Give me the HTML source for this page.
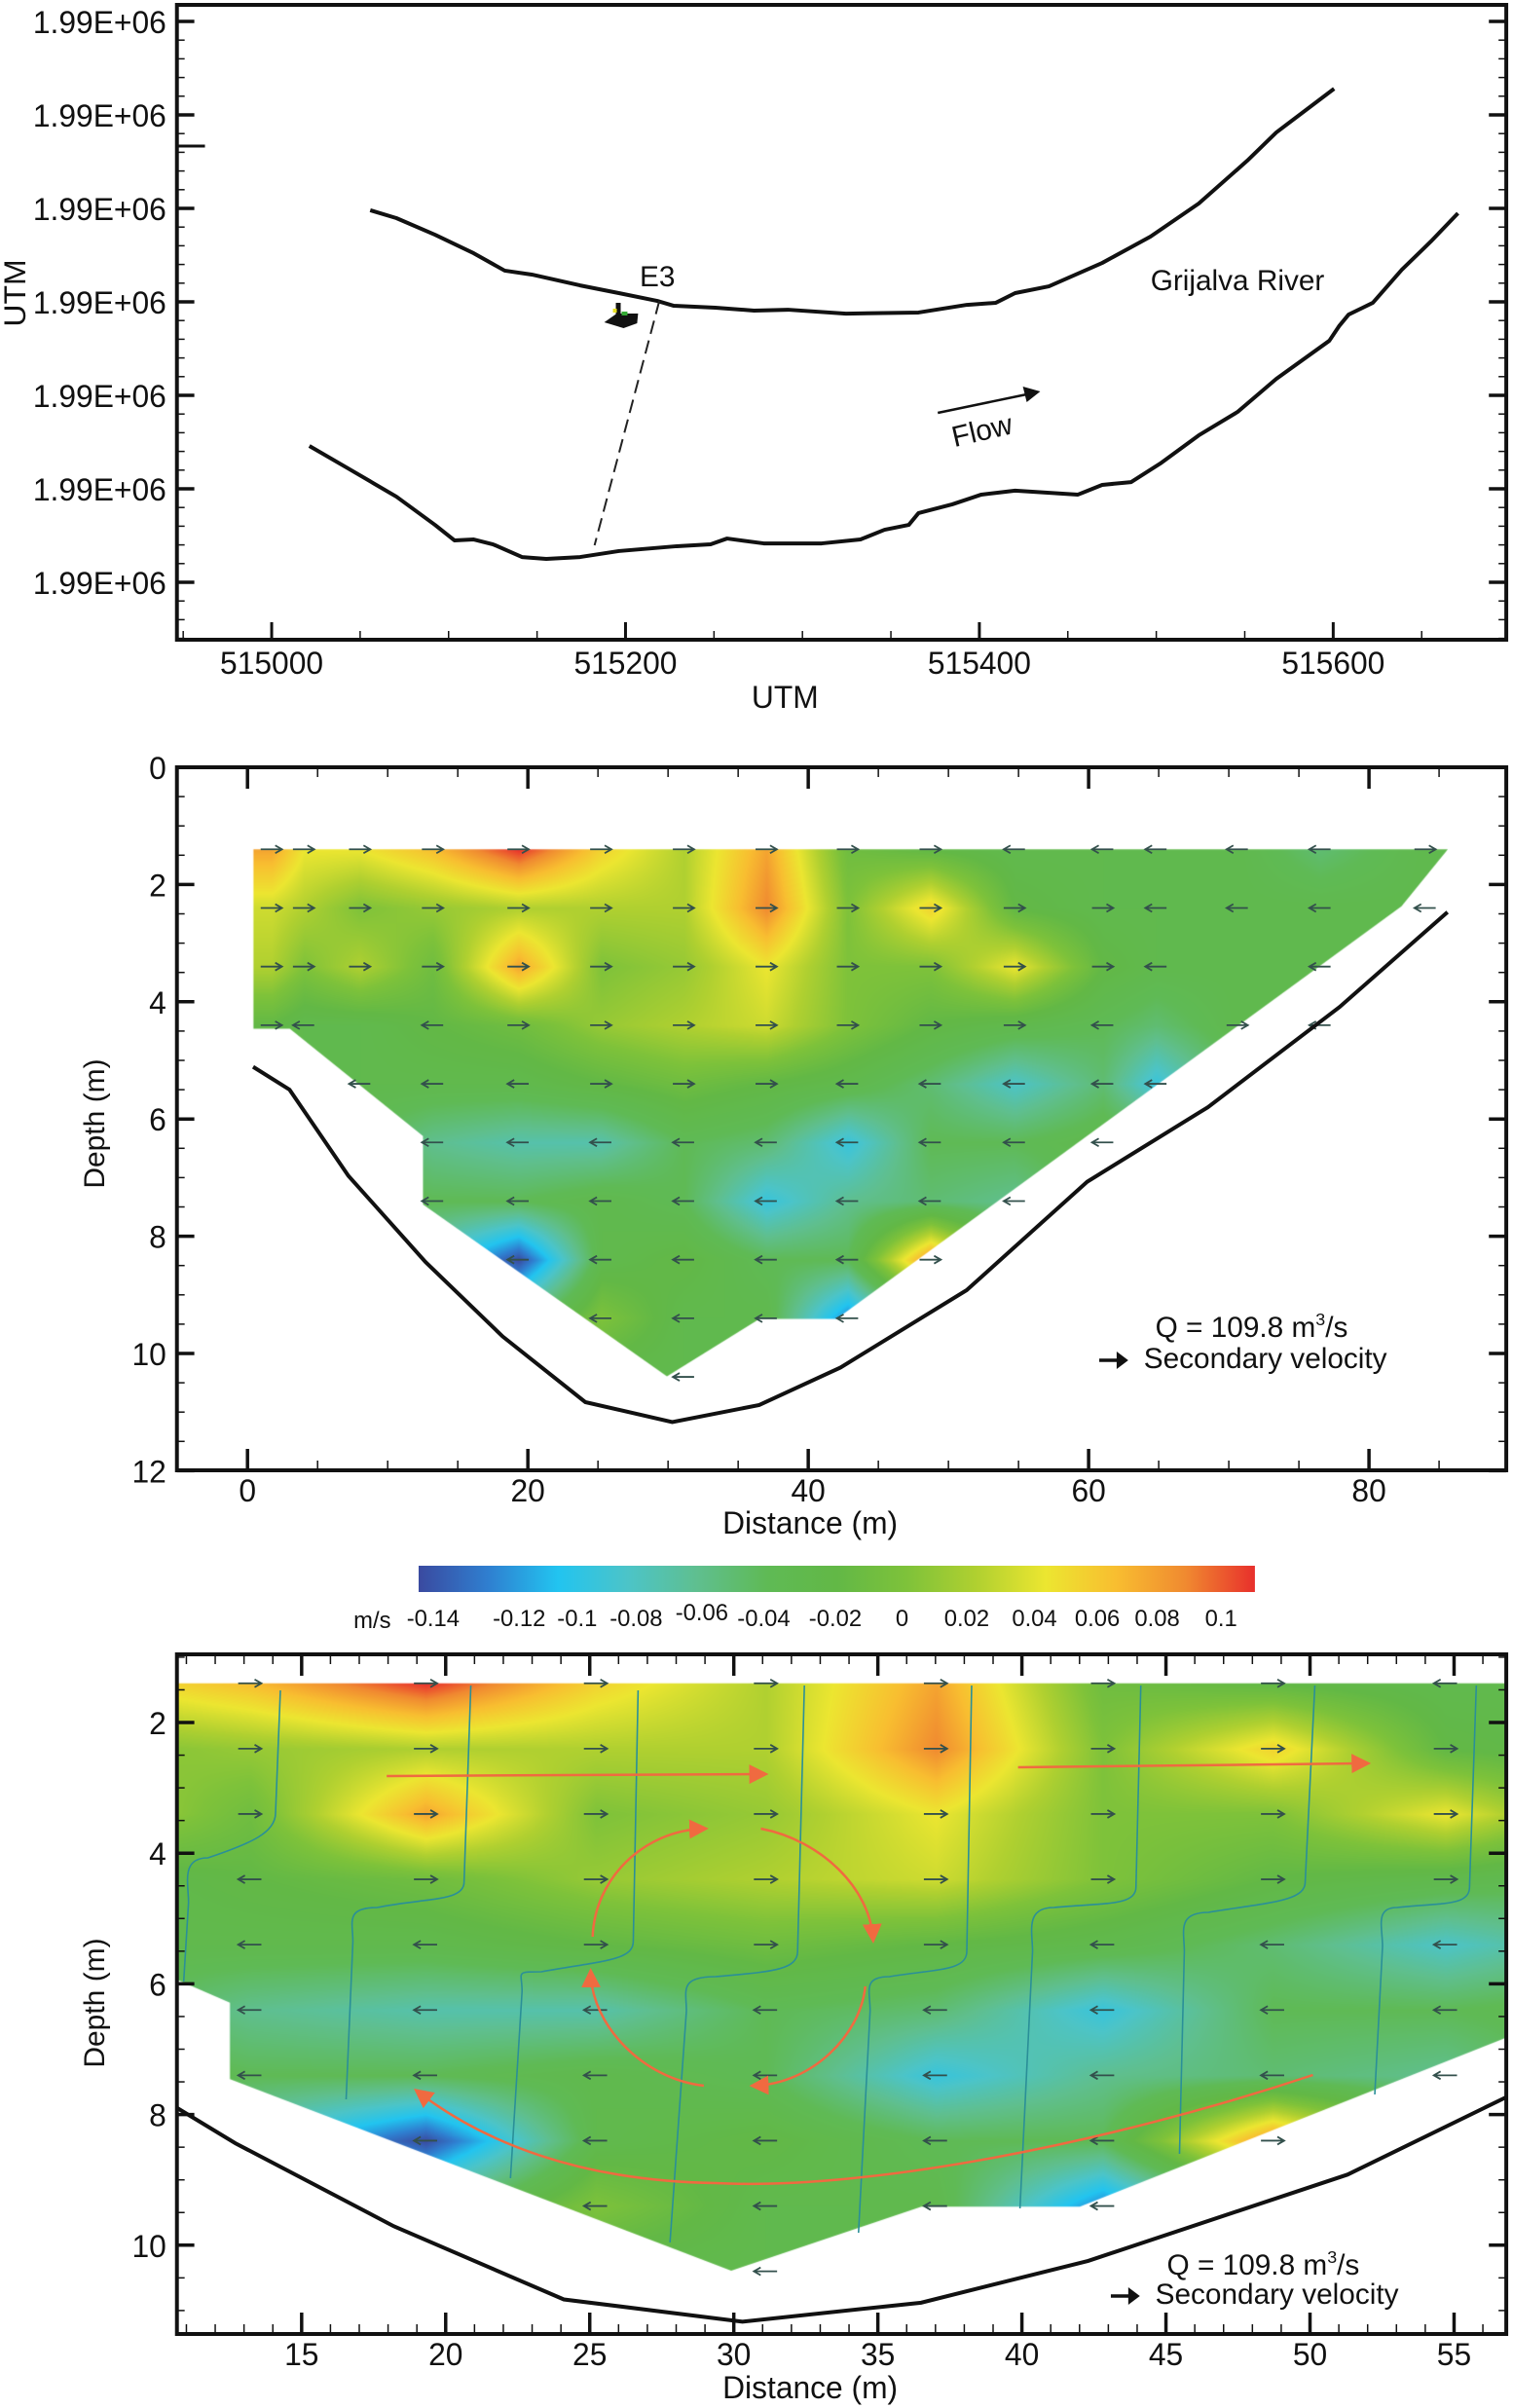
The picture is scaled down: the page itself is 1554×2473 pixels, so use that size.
<!DOCTYPE html>
<html><head><meta charset="utf-8">
<style>
html,body{margin:0;padding:0;background:#fff;}
body{width:1554px;height:2473px;position:relative;overflow:hidden;font-family:"Liberation Sans",sans-serif;}
canvas{position:absolute;transform:scaleX(0.993);transform-origin:0 0;}
svg{position:absolute;left:0;top:0;}
text{font-family:"Liberation Sans",sans-serif;fill:#111;}
</style></head>
<body>
<canvas id="c2"></canvas>
<canvas id="c3"></canvas>
<svg id="s" width="1554" height="2473"><g id="root" transform="scale(0.993 1)"></g></svg>
<script>
// ---------- Panel 1 data (easting offset from 515000 m, northing offset m) ----------
const upperE=[55.7,70.5,92.3,114.2,131.7,147,174.3,196.2,218,227.3,250.8,272.7,291.8,324.6,365.6,392.9,409.3,420.2,439.3,469.4,496.7,524,551.4,567.8,600.5];
const upperN=[199,194.8,185.9,176,166.7,164.6,158.8,154.7,150.5,147.9,146.9,145.3,145.8,143.7,144.3,148.4,149.5,154.7,158.3,170.8,184.9,202.6,225.5,240.6,264];
const lowerE=[21.3,43.2,70.5,92.3,103.3,114.2,125.1,141.5,155.2,174.3,196.2,229,248.1,257.4,278.1,310.9,332.8,346.4,360.1,365.6,384.7,401.1,420.2,455.7,469.4,485.8,502.2,524,545.9,567.8,597.8,603.3,608.7,622.4,638.8,655.2,670.5];
const lowerN=[72.9,60.9,45.8,30.7,22.4,22.9,20.3,13.5,12.5,13.5,16.7,19.3,20.3,23.4,20.8,20.8,22.9,28.1,30.7,37,41.7,46.9,49,46.9,52.1,53.6,63.5,78.6,91.1,108.8,129.2,137,143.2,149.5,167.2,182.3,197.4];
const sectionE=[219.1,182.5];
const sectionN=[150.5,19.8];
const xTickVals1=[0,200,400,600];
const xTickLabels1=["515000","515200","515400","515600"];
const yTickVals1=[0,50,100,150,200,250,300];
const yTickLabels1=["1.99E+06","1.99E+06","1.99E+06","1.99E+06","1.99E+06","1.99E+06","1.99E+06"];

// ---------- Cross-section data ----------
const cols=[1.7,4,8,13.2,19.3,25.2,31.1,37,42.8,48.7,54.7,61,64.8,70.6,76.5,84];
const rows=[1.4,2.4,3.4,4.4,5.4,6.4,7.4,8.4,9.4,10.4];
const vRow1=[0.07,0.04,0.04,0.06,0.10,0.05,0.02,0.07,-0.01,-0.02,-0.03,-0.03,-0.03,-0.03,-0.05,-0.03];
const vRow2=[0.03,0.02,0.0,0.01,0.02,0.02,0.02,0.08,0.0,0.05,-0.02,-0.03,-0.03,-0.03,-0.03,-0.03];
const vRow3=[0.02,0.0,0.02,-0.01,0.07,0.0,0.01,0.04,0.0,0.0,0.04,-0.02,-0.03,-0.03,-0.03,-0.03];
const vRow4=[-0.02,-0.03,-0.03,-0.02,-0.01,0.01,0.02,0.03,0.0,-0.02,-0.03,-0.04,-0.05,-0.03,-0.03,-0.03];
const vRow5=[-0.03,-0.03,-0.03,-0.03,-0.03,-0.02,-0.01,-0.02,-0.03,-0.05,-0.08,-0.05,-0.09,-0.04,-0.03,-0.03];
const vRow6=[-0.03,-0.03,-0.04,-0.06,-0.07,-0.07,-0.04,-0.05,-0.09,-0.04,-0.04,-0.03,-0.03,-0.03,-0.03,-0.03];
const vRow7=[-0.03,-0.03,-0.03,-0.04,-0.04,-0.03,-0.04,-0.09,-0.06,-0.05,-0.06,-0.03,-0.03,-0.03,-0.03,-0.03];
const vRow8=[-0.03,-0.03,-0.03,-0.08,-0.14,-0.03,-0.02,-0.04,-0.04,0.08,-0.03,-0.03,-0.03,-0.03,-0.03,-0.03];
const vRow9=[-0.03,-0.03,-0.03,-0.03,-0.05,0.0,-0.03,-0.03,-0.12,-0.03,-0.03,-0.03,-0.03,-0.03,-0.03,-0.03];
const vRow10=[-0.03,-0.03,-0.03,-0.03,-0.03,-0.03,-0.03,-0.03,-0.03,-0.03,-0.03,-0.03,-0.03,-0.03,-0.03,-0.03];
const vel=[vRow1,vRow2,vRow3,vRow4,vRow5,vRow6,vRow7,vRow8,vRow9,vRow10];
const arrowDirs=["RRRRRRRRRRLLLLLR","RRRRRRRRRRRRLLLL","RRRRRRRRRRRRL.L.","RL.LRRRRRRRL.RL.","..LLLRRRLLLLL...","...LLLLLLLLL....","...LLLLLLLL.....","....LLLLLR......",".....LLLL.......","......L........."];
const polyX=[0.4,85.6,82.3,42,36.5,29.9,12.5,12.5,3,0.4];
const polyD=[1.4,1.4,2.37,9.41,9.41,10.39,7.46,6.29,4.46,4.46];
const bedX=[0.4,3,7.2,12.7,18.2,24.1,30.3,36.5,42.3,51.3,59.9,68.5,77.9,85.6];
const bedD=[5.11,5.5,6.97,8.44,9.71,10.83,11.17,10.88,10.24,8.92,7.07,5.8,4.09,2.47];
const cbTicks=[-0.14,-0.12,-0.1,-0.08,-0.06,-0.04,-0.02,0,0.02,0.04,0.06,0.08,0.1];
const cbLabels=["-0.14","-0.12","-0.1","-0.08","-0.06","-0.04","-0.02","0","0.02","0.04","0.06","0.08","0.1"];

const NS="http://www.w3.org/2000/svg";
const S=document.getElementById('root');
function el(tag,attrs,parent){const e=document.createElementNS(NS,tag);for(const k in attrs)e.setAttribute(k,attrs[k]);(parent||S).appendChild(e);return e;}
function txt(x,y,s,size,anchor,parent){const t=el('text',{x:x,y:y,'font-size':size,'text-anchor':anchor||'middle'},parent);t.textContent=s;return t;}

const cmV=[-0.14,-0.12,-0.10,-0.08,-0.06,-0.04,-0.02,0,0.02,0.04,0.06,0.08,0.10];
const cmC=[[58,74,160],[47,127,208],[34,196,240],[76,196,200],[95,191,143],[95,186,85],[98,184,70],[126,194,58],[176,208,48],[236,230,48],[248,190,48],[240,138,48],[232,48,44]];
function cmap(v){if(v<=cmV[0])return cmC[0];if(v>=cmV[12])return cmC[12];let i=0;while(v>cmV[i+1])i++;const t=(v-cmV[i])/(cmV[i+1]-cmV[i]);return [0,1,2].map(k=>cmC[i][k]+(cmC[i+1][k]-cmC[i][k])*t);}
function seg(arr,x){if(x<=arr[0])return [0,0];const n=arr.length;if(x>=arr[n-1])return [n-2,1];let i=0;while(x>arr[i+1])i++;return [i,(x-arr[i])/(arr[i+1]-arr[i])];}
function val(m,d){const [i,tx]=seg(cols,m);const [j,ty]=seg(rows,d);const a=vel[j][i],b=vel[j][i+1],c=vel[j+1][i],e=vel[j+1][i+1];return (a*(1-tx)+b*tx)*(1-ty)+(c*(1-tx)+e*tx)*ty;}

function drawField(id,box,X,Y,Xi,Yi){
  const cv=document.getElementById(id);cv.width=box.w;cv.height=box.h;cv.style.left=(box.x*0.993)+'px';cv.style.top=box.y+'px';
  const off=document.createElement('canvas');off.width=box.w;off.height=box.h;const oc=off.getContext('2d');
  const img=oc.createImageData(box.w,box.h);
  for(let py=0;py<box.h;py++){const d=Yi(py+box.y);for(let px=0;px<box.w;px++){const m=Xi(px+box.x);const c=cmap(val(m,d));const o=(py*box.w+px)*4;img.data[o]=c[0];img.data[o+1]=c[1];img.data[o+2]=c[2];img.data[o+3]=255;}}
  oc.putImageData(img,0,0);
  const ctx=cv.getContext('2d');ctx.beginPath();
  polyX.forEach((m,i)=>{const x=X(m)-box.x,y=Y(polyD[i])-box.y;i?ctx.lineTo(x,y):ctx.moveTo(x,y);});
  ctx.closePath();ctx.save();ctx.clip();ctx.drawImage(off,0,0);ctx.restore();
}

function axesBox(b,name){el('rect',{x:b.x,y:b.y,width:b.w,height:b.h,fill:'none',stroke:'#111','stroke-width':4,});}
function tick(x1,y1,x2,y2,w){el('line',{x1:x1,y1:y1,x2:x2,y2:y2,stroke:'#111','stroke-width':w||2});}

// ================= PANEL 1 =================
const b1={x:183,y:5,w:1375,h:652};
const E1=e=>281+1.83*e, N1=n=>598-n*1.92;
axesBox(b1,'map-frame');
for(let e=-50;e<=700;e+=50){const x=E1(e);if(x<b1.x||x>b1.x+b1.w)continue;const maj=xTickVals1.includes(e);tick(x,b1.y+b1.h,x,b1.y+b1.h-(maj?18:9),maj?3:1.5);}
for(let n=-30;n<=310;n+=10){const y=N1(n);if(y<b1.y||y>b1.y+b1.h)continue;const maj=n%50===0;tick(b1.x,y,b1.x+(maj?18:8),y,maj?3.5:1.5);tick(b1.x+b1.w,y,b1.x+b1.w-(maj?18:8),y,maj?3.5:1.5);}
tick(183,150,212,150,3);
xTickVals1.forEach((v,i)=>{const t=txt(E1(v),692,xTickLabels1[i],32);});
yTickVals1.forEach((v,i)=>{const t=txt(172,N1(v)+12,yTickLabels1[i],32,'end');});
const xt1=txt(812,727,'UTM',32);
const yt1=txt(0,0,'UTM',32);yt1.setAttribute('transform','translate(26,301) rotate(-90)');
function bank(E,N,name){const p=el('polyline',{points:E.map((e,i)=>E1(e)+','+N1(N[i])).join(' '),fill:'none',stroke:'#111','stroke-width':4,'stroke-linejoin':'round'});}
bank(upperE,upperN,'left-river-bank');bank(lowerE,lowerN,'right-river-bank');
const sl=el('line',{x1:E1(sectionE[0]),y1:N1(sectionN[0]),x2:E1(sectionE[1]),y2:N1(sectionN[1]),stroke:'#222','stroke-width':2,'stroke-dasharray':'14 7'});

const e3=txt(680,294,'E3',30);
const boat=el('g',{});
el('polygon',{points:'625,331 638,322 660,322 659,332 645,337',fill:'#111'},boat);
el('rect',{x:637,y:311,width:5,height:13,fill:'#111'},boat);
el('rect',{x:634,y:317,width:4,height:4,fill:'#e8e020'},boat);
el('rect',{x:643,y:320,width:6,height:4,fill:'#3a3'},boat);
const gr=txt(1280,298,'Grijalva River',30);
const fa=el('g',{});
el('line',{x1:970,y1:424,x2:1062,y2:405,stroke:'#111','stroke-width':2.5},fa);
el('polygon',{points:'1076,402 1058,397 1062,413',fill:'#111'},fa);
const ft=txt(0,0,'Flow',30);ft.setAttribute('transform','translate(1018,452) rotate(-13)');

// ================= PANEL 2 =================
const b2={x:183,y:788,w:1375,h:722};
const X2=m=>256+14.5*m, Y2=d=>788+60.2*d;
drawField('c2',b2,X2,Y2,px=>(px-256)/14.5,py=>(py-788)/60.2);
// ================= PANEL 3 =================
const b3={x:183,y:1699,w:1375,h:698};
const X3=m=>-135+29.8*m, Y3=d=>1634.8+67.1*d;
drawField('c3',b3,X3,Y3,px=>(px+135)/29.8,py=>(py-1634.8)/67.1);

function arrows(X,Y,b,len,name){
  const g=el('g',{});
  arrowDirs.forEach((s,j)=>{for(let i=0;i<s.length;i++){const c=s[i];if(c==='.')continue;const cx=X(cols[i]),cy=Y(rows[j]);if(cx<b.x+8||cx>b.x+b.w-8)continue;const dir=c==='R'?1:-1;const x1=cx-dir*len/2,x2=cx+dir*len/2;
    const a=el('g',{},g);
    el('line',{x1:x1,y1:cy,x2:x2,y2:cy,stroke:'#33504c','stroke-width':1.8},a);
    el('polyline',{points:(x2-dir*7)+','+(cy-4)+' '+x2+','+cy+' '+(x2-dir*7)+','+(cy+4),fill:'none',stroke:'#33504c','stroke-width':1.8},a);}});
}
function bed(X,Y,b,name){const clipId=name+'-clip';const cp=el('clipPath',{id:clipId});el('rect',{x:b.x,y:b.y,width:b.w,height:b.h},cp);
  const p=el('polyline',{points:bedX.map((m,i)=>X(m)+','+Y(bedD[i])).join(' '),fill:'none',stroke:'#111','stroke-width':4,'clip-path':'url(#'+clipId+')'});}
function sectionAxes(b,X,Y,xmaj,xmin,ymaj,ymin,xr,yr,pre){
  axesBox(b,pre+'-frame');
  for(let m=xr[0];m<=xr[1]+1e-6;m+=xmin){const x=X(m);if(x<b.x+2||x>b.x+b.w-2)continue;const maj=Math.abs(m/xmaj-Math.round(m/xmaj))<1e-6;const L=maj?22:10;tick(x,b.y,x,b.y+L,maj?3.5:1.5);tick(x,b.y+b.h,x,b.y+b.h-L,maj?3.5:1.5);
    if(maj){const t=txt(x,b.y+b.h+32,String(Math.round(m)),32);}}
  for(let d=yr[0];d<=yr[1]+1e-6;d+=ymin){const y=Y(d);if(y<b.y-1||y>b.y+b.h+1)continue;const maj=Math.abs(d/ymaj-Math.round(d/ymaj))<1e-6;const L=maj?18:8;tick(b.x,y,b.x+L,y,maj?3.5:1.5);tick(b.x+b.w,y,b.x+b.w-L,y,maj?3.5:1.5);
    if(maj){const t=txt(172,y+12,String(Math.round(d)),32,'end');}}
}
function legendQ(x,yq,ys,pre){const q=el('text',{x:x,y:yq,'font-size':30,});q.innerHTML='Q = 109.8 m<tspan font-size="18" dy="-12">3</tspan><tspan dy="12">/s</tspan>';
  const a=el('g',{});el('line',{x1:x-58,y1:ys-8,x2:x-36,y2:ys-8,stroke:'#111','stroke-width':3.5},a);el('polygon',{points:(x-28)+','+(ys-8)+' '+(x-40)+','+(ys-17)+' '+(x-40)+','+(ys+1),fill:'#111'},a);
  const s=txt(x-12,ys,'Secondary velocity',30,'start');}

arrows(X2,Y2,b2,22,'secondary-velocity-arrows-full');
bed(X2,Y2,b2,'riverbed-line-full');
sectionAxes(b2,X2,Y2,20,5,2,0.5,[-5,95],[0,12],'cross-section-full');
const xt2=txt(838,1575,'Distance (m)',32);
const yt2=txt(0,0,'Depth (m)',30);yt2.setAttribute('transform','translate(108,1154) rotate(-90)');
legendQ(1195,1373,1405,'full');

// colorbar
const cbx0=433,cbx1=1298,cby=1608,cbh=27;
const grad=el('linearGradient',{id:'cbg',x1:0,x2:1,y1:0,y2:0});
cmV.forEach((v,i)=>{el('stop',{offset:(i/(cmV.length-1)),'stop-color':'rgb('+cmC[i].join(',')+')'},grad);});
const cbr=el('rect',{x:cbx0,y:cby,width:cbx1-cbx0,height:cbh,fill:'url(#cbg)'});
const cbLabelX=[448,537,597,658,726,790,864,933,1000,1070,1135,1197,1263];
cbTicks.forEach((v,i)=>{const t=txt(cbLabelX[i],i===4?1664:1670,cbLabels[i],24);});
const ms=txt(385,1672,'m/s',24);

// panel 3 overlays
const clip3=el('clipPath',{id:'clip3'});el('rect',{x:b3.x,y:b3.y,width:b3.w,height:b3.h},clip3);
const sg=el('g',{'clip-path':'url(#clip3)',});
const streams=[
 [[290,1736],[285,1862],[260,1893],[215,1908],[195,1954],[190,2035]],
 [[487,1731],[480,1933],[440,1949],[390,1959],[365,1994],[358,2156]],
 [[660,1736],[655,1994],[620,2014],[560,2025],[540,2045],[528,2237]],
 [[832,1731],[825,2004],[795,2025],[740,2030],[710,2065],[693,2303]],
 [[1005,1731],[1000,2004],[970,2022],[920,2030],[900,2065],[888,2293]],
 [[1180,1731],[1175,1938],[1140,1954],[1090,1959],[1068,2004],[1055,2268]],
 [[1360,1731],[1350,1933],[1310,1954],[1250,1964],[1225,2004],[1220,2212]],
 [[1527,1731],[1520,1938],[1490,1954],[1445,1959],[1430,1999],[1422,2151]]];
streams.forEach(s=>{let d='M'+s[0][0]+','+s[0][1]+' L'+s[1][0]+','+s[1][1]+' C'+s[1][0]+','+(s[1][1]+20)+' '+s[2][0]+','+s[2][1]+' '+s[3][0]+','+s[3][1]+' C'+(s[4][0]-8)+','+s[3][1]+' '+s[4][0]+','+(s[4][1]-20)+' '+s[4][0]+','+s[4][1]+' L'+s[5][0]+','+s[5][1];
  const p=el('path',{d:d,fill:'none',stroke:'#2a8f98','stroke-width':1.6},sg);});
arrows(X3,Y3,b3,24,'secondary-velocity-arrows-zoom');
bed(X3,Y3,b3,'riverbed-line-zoom');
const og=el('g',{});
const mk=el('marker',{id:'oh',markerWidth:8,markerHeight:8,refX:6,refY:4,orient:'auto',markerUnits:'strokeWidth'});
el('path',{d:'M0,0 L8,4 L0,8 Z',fill:'#f06a40'},mk);
const oA={stroke:'#f06a40','stroke-width':2.5,fill:'none','marker-end':'url(#oh)'};
function opath(d,n){const p=el('path',Object.assign({d:d},oA),og);}
opath('M400,1824 L790,1822','surface-flow-arrow-left');
opath('M1053,1815 L1413,1811','surface-flow-arrow-right');
opath('M613,1989 C615,1930 665,1880 728,1878','vortex-arc-top-left');
opath('M787,1878 C850,1890 900,1940 903,1991','vortex-arc-top-right');
opath('M895,2040 C890,2090 840,2140 780,2142','vortex-arc-bottom-right');
opath('M728,2142 C665,2135 612,2080 611,2026','vortex-arc-bottom-left');
opath('M1358,2131 C1150,2200 900,2250 740,2242 C600,2240 500,2200 432,2148','bottom-return-flow-arrow');
sectionAxes(b3,X3,Y3,5,1,2,0.5,[10,57],[0,11.5],'cross-section-zoom');
const xt3=txt(838,2463,'Distance (m)',32);
const yt3=txt(0,0,'Depth (m)',30);yt3.setAttribute('transform','translate(108,2057) rotate(-90)');
legendQ(1207,2336,2366,'zoom');
</script>
</body></html>
